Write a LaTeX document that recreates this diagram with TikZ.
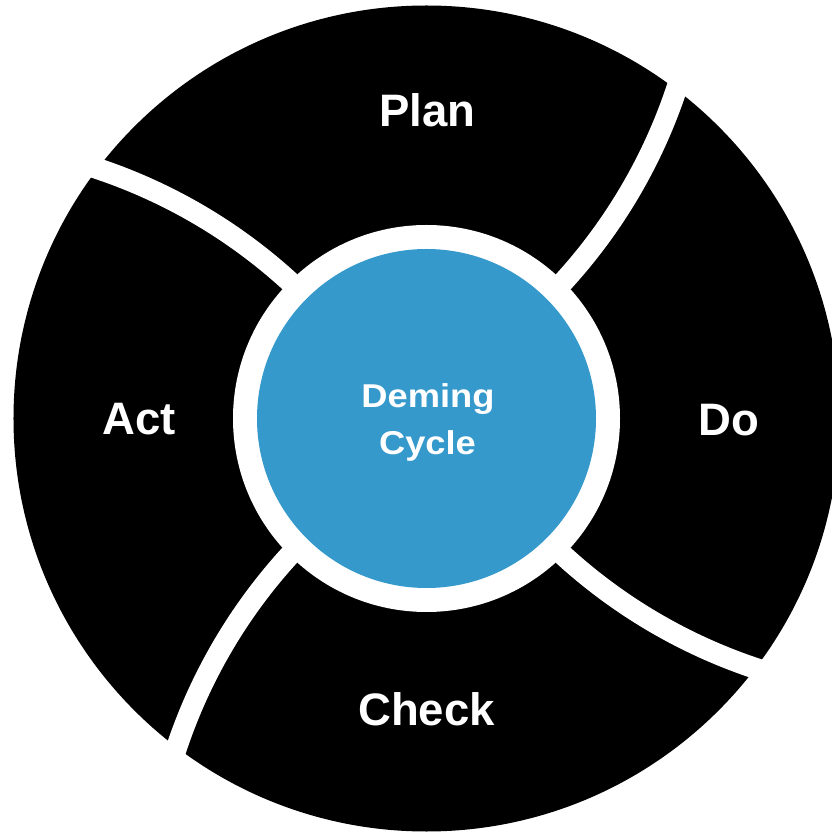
\documentclass[tikz,border=0pt]{standalone}
\usepackage{graphicx}
\usepackage{fontspec}
\setmainfont{Liberation Sans}
\definecolor{hubblue}{RGB}{54,153,204}
\begin{document}
\begin{tikzpicture}[x=1pt,y=1pt,
  lbl/.style={font=\bfseries\fontsize{45.5}{50}\selectfont, text=white, inner sep=0pt, anchor=base},
  ctr/.style={font=\bfseries\fontsize{33}{38}\selectfont, text=white, inner sep=0pt, anchor=base},
  gapband/.style={draw=white, line width=21pt}]
\useasboundingbox (-426.5,-413.5) rectangle (405.5,418.5);
\clip (-426.5,-413.5) rectangle (405.5,418.5);
% outer ring
\node[circle, fill=black, inner sep=0pt, minimum size=826pt] (ring) at (0,0) {};
\node[circle, fill=white, inner sep=0pt, minimum size=387pt] (hole) at (0,0) {};
% curved separators
\foreach \a in {0,90,180,270}{
  \begin{scope}[rotate=\a]
    \draw[gapband] (-259.5,499.1) ++(-46:537) arc[start angle=-46, end angle=-15, radius=537];
  \end{scope}
}
% hub
\node[circle, fill=hubblue, inner sep=0pt, minimum size=339pt] (hub) at (0,0) {};
\node[ctr] (deming) at (1.5,10.5) {\scalebox{1.1}[1]{Deming}};
\node[ctr] (cycle) at (1,-36) {\scalebox{1.1}[1]{Cycle}};
% labels
\node[lbl] (plan) at (1,291.5) {Plan};
\node[lbl] (do) at (302,-17) {Do};
\node[lbl] (check) at (0,-306.5) {Check};
\node[lbl] (act) at (-287,-16.5) {Act};
\end{tikzpicture}
\end{document}
